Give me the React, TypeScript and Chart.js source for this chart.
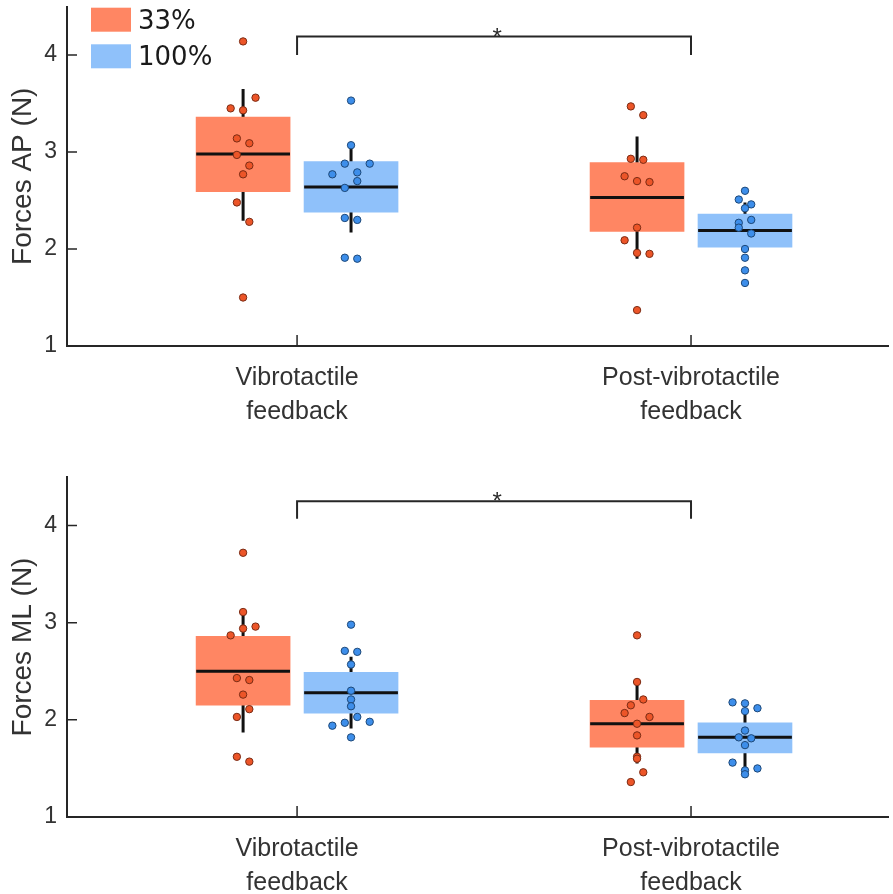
import React, { useEffect, useRef } from 'react';
import { Chart, registerables } from 'chart.js';

Chart.register(...registerables);

// ---------- DATA ----------
const CATEGORY_LABELS = [['Vibrotactile', 'feedback'], ['Post-vibrotactile', 'feedback']];
const CATEGORY_POS = [1, 2];
const GROUP_NAMES = ['33%', '100%'];
const Y_TICKS = [1, 2, 3, 4];
const BRACKET_CATS = [1, 2];

// Forces AP — individual points (N) and jitter slot per point
const AP_VIB_33 = [4.14, 3.56, 3.45, 3.43, 3.14, 3.09, 2.97, 2.86, 2.77, 2.48, 2.28, 1.5];
const AP_VIB_33_JIT = [0, 2, -2, 0, -1, 1, -1, 1, 0, -1, 1, 0];
const AP_VIB_100 = [3.53, 3.07, 2.88, 2.88, 2.77, 2.79, 2.7, 2.63, 2.32, 2.3, 1.91, 1.9];
const AP_VIB_100_JIT = [0, 0, -1, 3, -3, 1, 1, -1, -1, 1, -1, 1];
const AP_POST_33 = [3.47, 3.38, 2.93, 2.92, 2.75, 2.7, 2.69, 2.22, 2.09, 1.96, 1.95, 1.37];
const AP_POST_33_JIT = [-1, 1, -1, 1, -2, 0, 2, 0, -2, 0, 2, 0];
const AP_POST_100 = [2.6, 2.51, 2.46, 2.42, 2.3, 2.27, 2.22, 2.16, 2.0, 1.91, 1.78, 1.65];
const AP_POST_100_JIT = [0, -1, 1, 0, 1, -1, -1, 1, 0, 0, 0, 0];

// Forces AP — box statistics per category [Vibrotactile, Post-vibrotactile]
const AP_Q1_33 = [2.59, 2.18];
const AP_MED_33 = [2.98, 2.53];
const AP_Q3_33 = [3.36, 2.89];
const AP_WLO_33 = [2.29, 1.9];
const AP_WHI_33 = [3.65, 3.16];
const AP_Q1_100 = [2.38, 2.02];
const AP_MED_100 = [2.64, 2.19];
const AP_Q3_100 = [2.9, 2.36];
const AP_WLO_100 = [2.17, 1.96];
const AP_WHI_100 = [3.05, 2.48];
const AP_BRACKET = [4.0, 4.19]; // [leg end, bar]

// Forces ML — individual points
const ML_VIB_33 = [3.72, 3.11, 2.94, 2.96, 2.87, 2.43, 2.41, 2.26, 2.11, 2.03, 1.62, 1.57];
const ML_VIB_33_JIT = [0, 0, 0, 2, -2, -1, 1, 0, 1, -1, -1, 1];
const ML_VIB_100 = [2.98, 2.71, 2.7, 2.57, 2.3, 2.21, 2.14, 2.03, 1.94, 1.97, 1.98, 1.82];
const ML_VIB_100_JIT = [0, -1, 1, 0, 0, 0, 0, 1, -3, -1, 3, 0];
const ML_POST_33 = [2.87, 2.39, 2.21, 2.15, 2.07, 2.03, 1.96, 1.84, 1.62, 1.6, 1.46, 1.36];
const ML_POST_33_JIT = [0, 0, 1, -1, -2, 2, 0, 0, 0, 0, 1, -1];
const ML_POST_100 = [2.18, 2.17, 2.12, 2.09, 1.89, 1.82, 1.81, 1.74, 1.56, 1.5, 1.48, 1.44];
const ML_POST_100_JIT = [-2, 0, 2, 0, 0, -1, 1, 0, -2, 2, 0, 0];

// Forces ML — box statistics
const ML_Q1_33 = [2.15, 1.72];
const ML_MED_33 = [2.5, 1.96];
const ML_Q3_33 = [2.86, 2.2];
const ML_WLO_33 = [1.87, 1.55];
const ML_WHI_33 = [3.08, 2.36];
const ML_Q1_100 = [2.07, 1.66];
const ML_MED_100 = [2.28, 1.82];
const ML_Q3_100 = [2.49, 1.97];
const ML_WLO_100 = [1.91, 1.47];
const ML_WHI_100 = [2.65, 2.1];
const ML_BRACKET = [4.07, 4.25];

// ---------- STYLE ----------
const W = 893;
const H = 447;
const AXIS_COLOR = '#262626';
const BOX_COLORS = ['#FF8663', '#8FC1FA'];
const DOT_COLORS = ['#EC5528', '#3D8EEA'];
const DOT_EDGE = ['#7A2B14', '#1D4878'];
const GROUP_OFFSET = [-0.137, 0.137];
const JITTER_STEP = 0.0158;
const BOX_HALF = 0.119;
const BOX_PX = 94;
const X_MIN = 0.416;
const X_MAX = 2.5;

type Group = {
  q1: number[]; med: number[]; q3: number[]; wlo: number[]; whi: number[];
  pts: number[][]; jit: number[][];
};

function buildDatasets(groups: Group[], bracket: number[]) {
  const ds: any[] = [];
  groups.forEach((g, gi) => {
    const off = GROUP_OFFSET[gi];
    ds.push({
      type: 'bar',
      label: GROUP_NAMES[gi],
      data: CATEGORY_POS.map((c, i) => ({ x: c + off, y: [g.q1[i], g.q3[i]] })),
      backgroundColor: BOX_COLORS[gi],
      borderWidth: 0,
      barThickness: BOX_PX,
      grouped: false,
      order: 4,
    });
    const wh: any[] = [];
    CATEGORY_POS.forEach((c, i) => {
      wh.push({ x: c + off, y: g.wlo[i] }, { x: c + off, y: g.whi[i] }, { x: c + off, y: null });
    });
    ds.push({
      type: 'line', data: wh, borderColor: '#111', borderWidth: 3, pointRadius: 0,
      spanGaps: false, order: 5, borderCapStyle: 'butt',
    });
    const md: any[] = [];
    CATEGORY_POS.forEach((c, i) => {
      md.push({ x: c + off - BOX_HALF, y: g.med[i] }, { x: c + off + BOX_HALF, y: g.med[i] }, { x: c + off + BOX_HALF, y: null });
    });
    ds.push({
      type: 'line', data: md, borderColor: '#111', borderWidth: 3, pointRadius: 0,
      spanGaps: false, order: 2,
    });
    const pts: any[] = [];
    CATEGORY_POS.forEach((c, i) => {
      g.pts[i].forEach((v, k) => pts.push({ x: c + off + g.jit[i][k] * JITTER_STEP, y: v }));
    });
    ds.push({
      type: 'scatter', data: pts, backgroundColor: DOT_COLORS[gi], borderColor: DOT_EDGE[gi],
      borderWidth: 1, pointRadius: 3.7, order: 0,
    });
  });
  ds.push({
    type: 'line',
    data: [
      { x: BRACKET_CATS[0], y: bracket[0] },
      { x: BRACKET_CATS[0], y: bracket[1] },
      { x: BRACKET_CATS[1], y: bracket[1] },
      { x: BRACKET_CATS[1], y: bracket[0] },
    ],
    borderColor: AXIS_COLOR, borderWidth: 2, pointRadius: 0, tension: 0, order: 1,
  });
  return ds;
}

function makeConfig(opts: {
  title: string; groups: Group[]; bracket: number[]; legend: boolean; areaTop: number; areaBottom: number;
}) {
  const tickPlugin = {
    id: 'innerTicks',
    afterDatasetsDraw(chart: any) {
      const { ctx, chartArea, scales } = chart;
      ctx.save();
      ctx.strokeStyle = AXIS_COLOR;
      ctx.lineWidth = 1.5;
      ctx.beginPath();
      Y_TICKS.forEach((v) => {
        const y = scales.y.getPixelForValue(v);
        ctx.moveTo(chartArea.left, y);
        ctx.lineTo(chartArea.left + 10, y);
      });
      CATEGORY_POS.forEach((v) => {
        const x = scales.x.getPixelForValue(v);
        ctx.moveTo(x, chartArea.bottom);
        ctx.lineTo(x, chartArea.bottom - 11);
      });
      ctx.stroke();
      // significance star
      const sx = scales.x.getPixelForValue((BRACKET_CATS[0] + BRACKET_CATS[1]) / 2) + 3;
      const sy = scales.y.getPixelForValue(opts.bracket[1]);
      ctx.fillStyle = '#2a2a2a';
      ctx.font = '24px "Liberation Sans"';
      ctx.textAlign = 'center';
      ctx.textBaseline = 'alphabetic';
      ctx.fillText('*', sx, sy + 8);
      // legend
      if (opts.legend) {
        const lx = chartArea.left + 24;
        GROUP_NAMES.forEach((name, i) => {
          const ty = chartArea.top + 1.2 + i * 36.6;
          ctx.fillStyle = BOX_COLORS[i];
          ctx.fillRect(lx, ty, 40, 24);
          ctx.fillStyle = '#1a1a1a';
          ctx.font = '26px "DejaVu Sans"';
          ctx.textAlign = 'left';
          ctx.textBaseline = 'alphabetic';
          ctx.fillText(name, lx + 47, ty + 21);
        });
      }
      ctx.restore();
    },
  };

  return {
    type: 'bar',
    data: { datasets: buildDatasets(opts.groups, opts.bracket) },
    options: {
      responsive: false,
      animation: false,
      devicePixelRatio: 1,
      layout: { padding: { left: 0, right: 4, top: opts.areaTop, bottom: 0 } },
      plugins: { legend: { display: false }, tooltip: { enabled: false } },
      events: [],
      scales: {
        x: {
          type: 'linear',
          min: X_MIN,
          max: X_MAX,
          offset: false,
          afterBuildTicks: (s: any) => { s.ticks = CATEGORY_POS.map((v) => ({ value: v })); },
          afterFit: (s: any) => { s.height = H - opts.areaBottom; s.paddingLeft = 0; s.paddingRight = 0; },
          grid: { display: true, drawOnChartArea: false, drawTicks: false },
          border: { display: true, color: AXIS_COLOR, width: 2 },
          ticks: {
            autoSkip: false,
            maxRotation: 0,
            padding: 15,
            color: '#333',
            font: { family: '"Liberation Sans"', size: 25, lineHeight: 1.36 },
            callback: (_v: any, i: number) => CATEGORY_LABELS[i],
          },
        },
        y: {
          type: 'linear',
          min: 1,
          max: 4.5,
          afterBuildTicks: (s: any) => { s.ticks = Y_TICKS.map((v) => ({ value: v })); },
          afterFit: (s: any) => { s.width = 67; s.paddingTop = 0; s.paddingBottom = 0; },
          grid: { display: true, drawOnChartArea: false, drawTicks: false },
          border: { display: true, color: AXIS_COLOR, width: 2 },
          ticks: {
            padding: 10,
            color: '#333',
            font: { family: '"Liberation Sans"', size: 23 },
          },
          title: {
            display: true,
            text: opts.title,
            color: '#333',
            font: { family: '"Liberation Sans"', size: 28 },
            padding: { top: 6, bottom: 0 },
          },
        },
      },
    },
    plugins: [tickPlugin],
  } as any;
}

const AP_GROUPS: Group[] = [
  { q1: AP_Q1_33, med: AP_MED_33, q3: AP_Q3_33, wlo: AP_WLO_33, whi: AP_WHI_33,
    pts: [AP_VIB_33, AP_POST_33], jit: [AP_VIB_33_JIT, AP_POST_33_JIT] },
  { q1: AP_Q1_100, med: AP_MED_100, q3: AP_Q3_100, wlo: AP_WLO_100, whi: AP_WHI_100,
    pts: [AP_VIB_100, AP_POST_100], jit: [AP_VIB_100_JIT, AP_POST_100_JIT] },
];
const ML_GROUPS: Group[] = [
  { q1: ML_Q1_33, med: ML_MED_33, q3: ML_Q3_33, wlo: ML_WLO_33, whi: ML_WHI_33,
    pts: [ML_VIB_33, ML_POST_33], jit: [ML_VIB_33_JIT, ML_POST_33_JIT] },
  { q1: ML_Q1_100, med: ML_MED_100, q3: ML_Q3_100, wlo: ML_WLO_100, whi: ML_WHI_100,
    pts: [ML_VIB_100, ML_POST_100], jit: [ML_VIB_100_JIT, ML_POST_100_JIT] },
];

export default function App() {
  const topRef = useRef<HTMLCanvasElement | null>(null);
  const botRef = useRef<HTMLCanvasElement | null>(null);

  useEffect(() => {
    const c1 = new Chart(topRef.current!, makeConfig({
      title: 'Forces AP (N)', groups: AP_GROUPS, bracket: AP_BRACKET, legend: true, areaTop: 6.5, areaBottom: 346,
    }));
    const c2 = new Chart(botRef.current!, makeConfig({
      title: 'Forces ML (N)', groups: ML_GROUPS, bracket: ML_BRACKET, legend: false, areaTop: 30, areaBottom: 370,
    }));
    return () => { c1.destroy(); c2.destroy(); };
  }, []);

  return (
    <div style={{ position: 'fixed', left: 0, top: 0, width: W, height: 2 * H, background: '#fff' }}>
      <canvas ref={topRef} width={W} height={H} style={{ display: 'block', width: W, height: H }} />
      <canvas ref={botRef} width={W} height={H} style={{ display: 'block', width: W, height: H }} />
    </div>
  );
}
